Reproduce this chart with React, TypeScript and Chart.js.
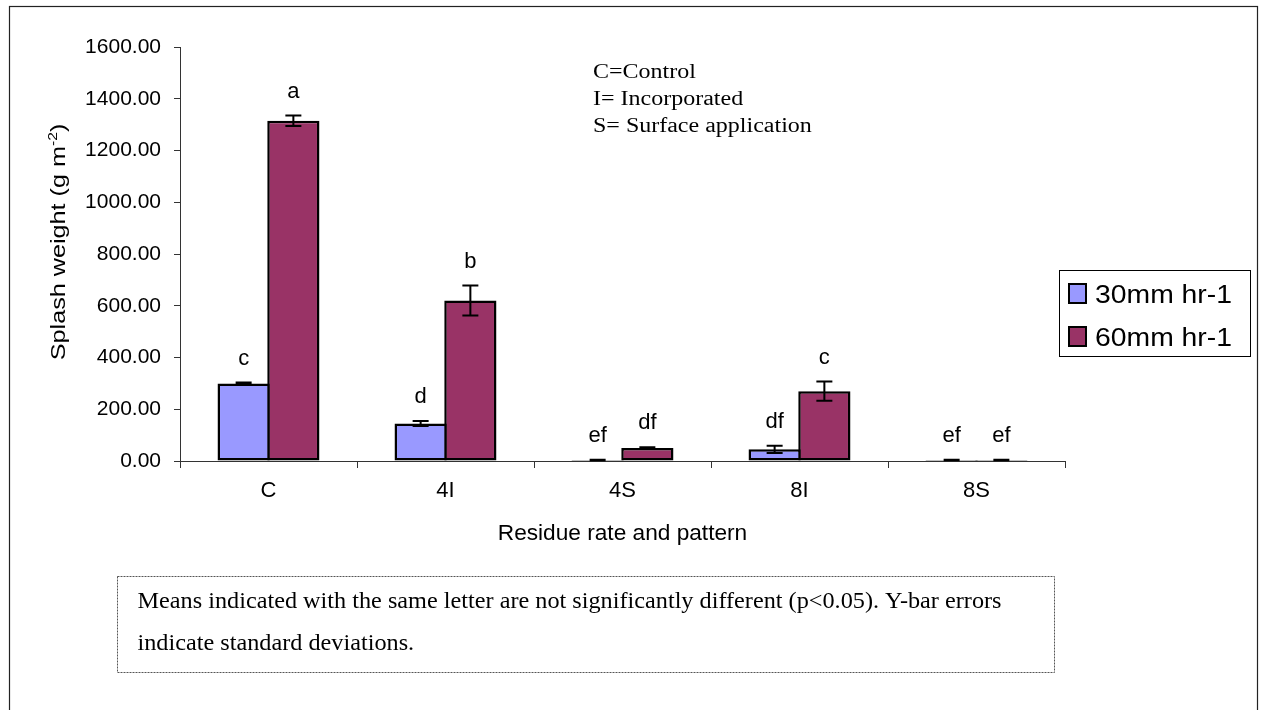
import React, { useEffect, useRef } from 'react';
import { Chart, registerables } from 'chart.js';

Chart.register(...registerables);

// ---------- data ----------
const categories = ['C', '4I', '4S', '8I', '8S'];
const seriesLabels = ['30mm hr-1', '60mm hr-1'];
const rate30 = [300, 145, 4, 45, 4];
const rate60 = [1315, 620, 50, 270, 4];
const sd30 = [3, 10, 1, 14, 1];
const sd60 = [20, 58, 3, 37, 1];
const letters30 = ['c', 'd', 'ef', 'df', 'ef'];
const letters60 = ['a', 'b', 'df', 'c', 'ef'];
const yMin = 0;
const yMax = 1600;
const yStep = 200;
const xTitle = 'Residue rate and pattern';
const yTitleMain = 'Splash weight (g m';
const yTitleSup = '-2';
const yTitleEnd = ')';
const keyLines = ['C=Control', 'I= Incorporated', 'S= Surface application'];
const noteLines = [
  'Means indicated with the same letter are not significantly different (p<0.05). Y-bar errors',
  'indicate standard deviations.',
];

const colors = ['#9999FF', '#993366'];
const SANS = '"Liberation Sans", Arial, sans-serif';
const SERIF = '"Liberation Serif", "Times New Roman", serif';

function drawScaledText(
  ctx: CanvasRenderingContext2D,
  text: string,
  x: number,
  y: number,
  font: string,
  scaleX: number,
  align: CanvasTextAlign = 'left'
) {
  ctx.save();
  ctx.font = font;
  ctx.textAlign = align;
  ctx.textBaseline = 'alphabetic';
  ctx.fillStyle = '#000';
  ctx.translate(x, y);
  ctx.scale(scaleX, 1);
  ctx.fillText(text, 0, 0);
  ctx.restore();
}

const backgroundPlugin = {
  id: 'bgFrame',
  beforeDraw(chart: any) {
    const ctx = chart.ctx as CanvasRenderingContext2D;
    ctx.save();
    ctx.fillStyle = '#fff';
    ctx.fillRect(0, 0, chart.width, chart.height);
    ctx.strokeStyle = '#222';
    ctx.lineWidth = 1.2;
    ctx.strokeRect(9.5, 6.5, 1257 - 9, 800);
    ctx.restore();
  },
};

const errorBarPlugin = {
  id: 'errorBars',
  afterDatasetsDraw(chart: any) {
    const ctx = chart.ctx as CanvasRenderingContext2D;
    const yScale = chart.scales.y;
    chart.data.datasets.forEach((ds: any, di: number) => {
      const meta = chart.getDatasetMeta(di);
      meta.data.forEach((bar: any, i: number) => {
        const v = ds.data[i] as number;
        const e = ds.errors[i] as number;
        const yTop = yScale.getPixelForValue(v + e);
        const yBot = yScale.getPixelForValue(Math.max(v - e, 0));
        const x = bar.x;
        ctx.save();
        ctx.strokeStyle = '#000';
        ctx.lineWidth = 2;
        ctx.beginPath();
        ctx.moveTo(x, yTop);
        ctx.lineTo(x, yBot);
        ctx.moveTo(x - 8, yTop);
        ctx.lineTo(x + 8, yTop);
        ctx.moveTo(x - 8, yBot);
        ctx.lineTo(x + 8, yBot);
        ctx.stroke();
        ctx.restore();
        drawScaledText(ctx, ds.letters[i], x, yTop - 18, `22px ${SANS}`, 1, 'center');
      });
    });
  },
};

const decorPlugin = {
  id: 'decor',
  afterDraw(chart: any) {
    const ctx = chart.ctx as CanvasRenderingContext2D;
    const area = chart.chartArea;

    // x-axis title
    drawScaledText(ctx, xTitle, (area.left + area.right) / 2, 540, `22px ${SANS}`, 1.03, 'center');

    // y-axis title (rotated, with superscript)
    ctx.save();
    ctx.fillStyle = '#000';
    ctx.textBaseline = 'alphabetic';
    ctx.textAlign = 'left';
    const mainFont = `21px ${SANS}`;
    const supFont = `13px ${SANS}`;
    ctx.font = mainFont;
    const w1 = ctx.measureText(yTitleMain).width;
    const w3 = ctx.measureText(yTitleEnd).width;
    ctx.font = supFont;
    const w2 = ctx.measureText(yTitleSup).width;
    const total = w1 + w2 + w3;
    const cy = (area.top + area.bottom) / 2 - 12;
    ctx.translate(57.5, cy);
    ctx.rotate(-Math.PI / 2);
    ctx.scale(1.2, 1);
    let sx = -total / 2;
    ctx.font = mainFont;
    ctx.fillText(yTitleMain, sx, 7.5);
    sx += w1;
    ctx.font = supFont;
    ctx.fillText(yTitleSup, sx, -1);
    sx += w2;
    ctx.font = mainFont;
    ctx.fillText(yTitleEnd, sx, 7.5);
    ctx.restore();

    // key text block
    const keyBase = [77.5, 104.5, 132];
    keyLines.forEach((t, i) => drawScaledText(ctx, t, 593, keyBase[i], `20px ${SERIF}`, 1.2));

    // legend
    ctx.save();
    ctx.strokeStyle = '#000';
    ctx.lineWidth = 1;
    ctx.strokeRect(1059.5, 270.5, 191, 86);
    ctx.restore();
    chart.data.datasets.forEach((ds: any, i: number) => {
      const base = 303 + i * 43;
      ctx.save();
      ctx.fillStyle = ds.backgroundColor;
      ctx.fillRect(1069, base - 19, 17, 19);
      ctx.strokeStyle = '#000';
      ctx.lineWidth = 2;
      ctx.strokeRect(1069, base - 19, 17, 19);
      ctx.restore();
      drawScaledText(ctx, ds.label, 1095, base, `26px ${SANS}`, 1.09);
    });

    // footnote box
    ctx.save();
    ctx.strokeStyle = '#555';
    ctx.lineWidth = 1;
    ctx.setLineDash([2, 1]);
    ctx.strokeRect(117.5, 576.5, 937, 96);
    ctx.restore();
    const noteBase = [608, 650];
    noteLines.forEach((t, i) => drawScaledText(ctx, t, 137.5, noteBase[i], `24px ${SERIF}`, 1.01));
  },
};

export default function App() {
  const canvasRef = useRef<HTMLCanvasElement | null>(null);

  useEffect(() => {
    const canvas = canvasRef.current;
    if (!canvas) return;
    const chart = new Chart(canvas, {
      type: 'bar',
      data: {
        labels: categories,
        datasets: [
          {
            label: seriesLabels[0],
            data: rate30,
            backgroundColor: colors[0],
            borderColor: '#000',
            borderWidth: 2.5,
            borderSkipped: false,
            errors: sd30,
            letters: letters30,
          } as any,
          {
            label: seriesLabels[1],
            data: rate60,
            backgroundColor: colors[1],
            borderColor: '#000',
            borderWidth: 2.5,
            borderSkipped: false,
            errors: sd60,
            letters: letters60,
          } as any,
        ],
      },
      options: {
        animation: false,
        responsive: false,
        devicePixelRatio: 1,
        layout: { padding: { left: 0, top: 47, right: 199, bottom: 209 } },
        datasets: { bar: { categoryPercentage: 0.562, barPercentage: 1.05 } },
        plugins: {
          legend: { display: false },
          tooltip: { enabled: false },
          title: { display: false },
        },
        scales: {
          x: {
            offset: true,
            grid: {
              display: true,
              offset: true,
              drawOnChartArea: false,
              drawTicks: true,
              tickLength: 7,
              color: '#333',
              lineWidth: 1,
            },
            border: { display: true, color: '#333', width: 1 },
            ticks: {
              color: '#000',
              font: { family: SANS, size: 22 },
              padding: 10,
            },
            afterFit: (s: any) => {
              s.height = 40;
            },
          },
          y: {
            min: yMin,
            max: yMax,
            grid: {
              display: true,
              drawOnChartArea: false,
              drawTicks: true,
              tickLength: 6,
              color: '#333',
              lineWidth: 1,
            },
            border: { display: true, color: '#333', width: 1 },
            ticks: {
              stepSize: yStep,
              color: '#000',
              font: { family: SANS, size: 21 },
              padding: 13,
              callback: (v: any) => Number(v).toFixed(2),
            },
            afterFit: (s: any) => {
              s.width = 180;
            },
          },
        },
      },
      plugins: [backgroundPlugin, errorBarPlugin, decorPlugin],
    });
    return () => chart.destroy();
  }, []);

  return (
    <div style={{ position: 'absolute', left: 0, top: 0, width: 1264, height: 710, background: '#fff' }}>
      <canvas ref={canvasRef} width={1264} height={710} style={{ display: 'block' }} />
    </div>
  );
}
